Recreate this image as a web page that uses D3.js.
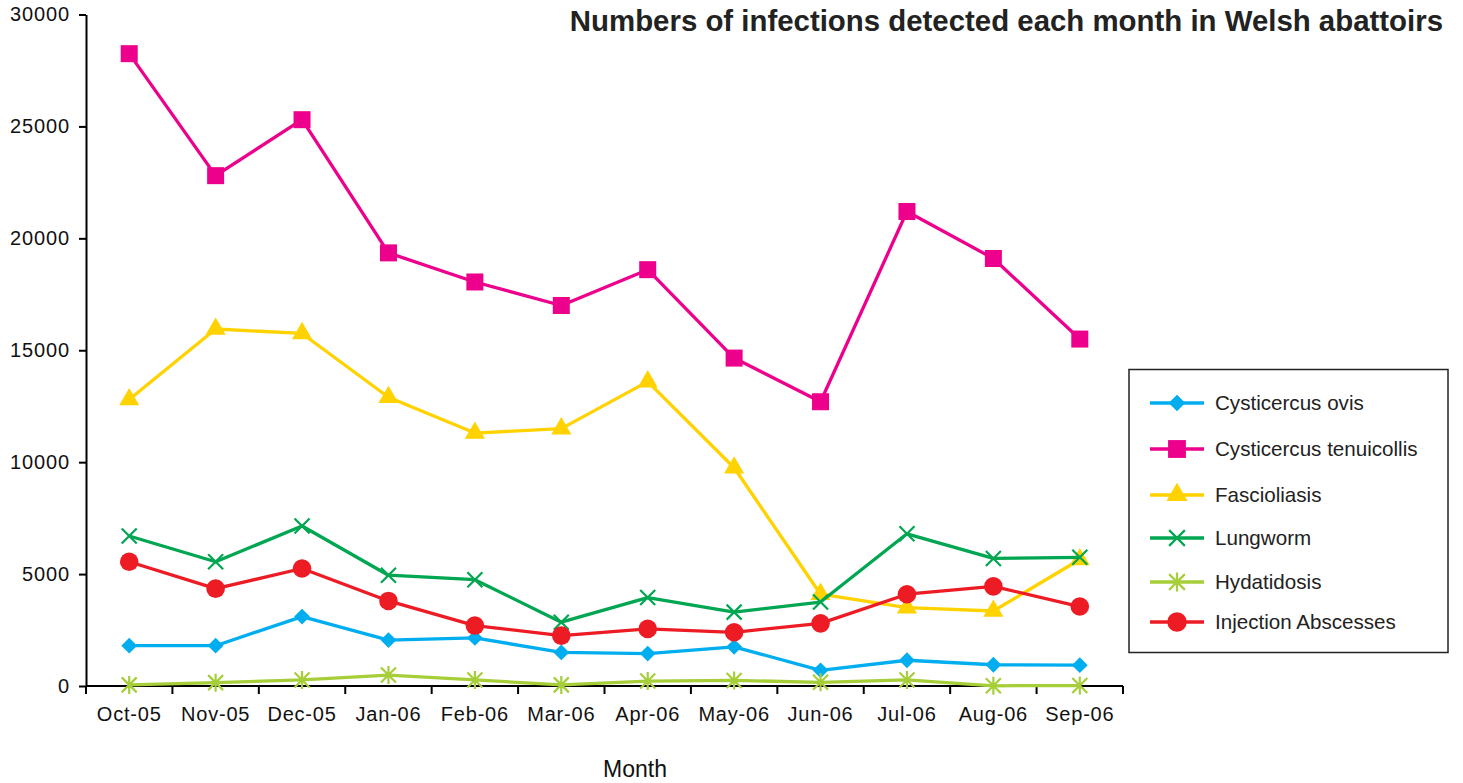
<!DOCTYPE html>
<html><head><meta charset="utf-8">
<script src="https://cdn.jsdelivr.net/npm/d3@7"></script>
<style>
html,body{margin:0;padding:0;background:#fff;}
svg{display:block;font-family:"Liberation Sans",Arial,sans-serif;}
</style></head>
<body><svg id="chart" width="1463" height="783"></svg>
<script>
const months = ["Oct-05","Nov-05","Dec-05","Jan-06","Feb-06","Mar-06","Apr-06","May-06","Jun-06","Jul-06","Aug-06","Sep-06"];
const yTicks = [0,5000,10000,15000,20000,25000,30000];
const seriesNames = ["Cysticercus ovis","Cysticercus tenuicollis","Fascioliasis","Lungworm","Hydatidosis","Injection Abscesses"];
const cysticercusOvis = [1800,1800,3100,2050,2150,1500,1450,1750,700,1150,950,930];
const cysticercusTenuicollis = [28250,22800,25300,19350,18050,17000,18600,14650,12700,21200,19100,15500];
const fascioliasis = [12800,15950,15750,12900,11300,11500,13600,9750,4100,3500,3350,5650];
const lungworm = [6700,5550,7150,4950,4750,2850,3950,3300,3750,6800,5700,5750];
const hydatidosis = [50,150,270,490,270,50,220,250,165,270,10,20];
const injectionAbscesses = [5550,4350,5250,3800,2700,2250,2550,2400,2800,4100,4450,3550];

const colors = ["#00AEEF","#EC008C","#FFD200","#00A651","#A6CE39","#ED1C24"];
const markers = ["diamond","square","triangle","x","asterisk","circle"];
const seriesData = [cysticercusOvis,cysticercusTenuicollis,fascioliasis,lungworm,hydatidosis,injectionAbscesses];

const svg = d3.select("#chart");
const x = d3.scaleBand().domain(months).range([86,1123]);
const y = d3.scaleLinear().domain([0,30000]).range([686,14.5]);

// axes
const xAxis = svg.append("g").attr("transform","translate(0,686)")
  .call(d3.axisBottom(x).tickSize(0).tickSizeOuter(0));
xAxis.select(".domain").attr("stroke","#000").attr("stroke-width",2).attr("d","M86,0H1123");
xAxis.selectAll(".tick text").attr("font-size",20).attr("letter-spacing","0.8px").attr("fill","#111").attr("dy","0.9em").attr("y",17);
// band boundary ticks
const bounds = months.map(m=>x(m)).concat([x(months[months.length-1])+x.bandwidth()]);
xAxis.selectAll("line.bt").data(bounds).enter().append("line")
  .attr("x1",d=>d).attr("x2",d=>d).attr("y1",0).attr("y2",8).attr("stroke","#000").attr("stroke-width",2);

const yAxis = svg.append("g").attr("transform","translate(86,0)")
  .call(d3.axisLeft(y).tickValues(yTicks).tickSize(7).tickSizeOuter(0).tickPadding(9).tickFormat(d3.format("d")));
yAxis.select(".domain").attr("stroke","#000").attr("stroke-width",2);
yAxis.selectAll(".tick line").attr("stroke","#000").attr("stroke-width",2);
yAxis.selectAll(".tick text").attr("font-size",20).attr("letter-spacing","0.9px").attr("fill","#111");

// marker drawing
function drawMarker(g, type, color, cx, cy, scale){
  const s = scale||1;
  if(type==="diamond"){
    g.append("path").attr("d",d3.symbol().type(d3.symbolSquare).size(125*s*s)())
      .attr("transform",`translate(${cx},${cy}) rotate(45)`).attr("fill",color);
  } else if(type==="square"){
    g.append("path").attr("d",d3.symbol().type(d3.symbolSquare).size(289*s*s)())
      .attr("transform",`translate(${cx},${cy})`).attr("fill",color);
  } else if(type==="triangle"){
    g.append("path").attr("d",d3.symbol().type(d3.symbolTriangle).size(175*s*s)())
      .attr("transform",`translate(${cx},${cy})`).attr("fill",color);
  } else if(type==="circle"){
    g.append("circle").attr("cx",cx).attr("cy",cy).attr("r",9.3*s).attr("fill",color);
  } else if(type==="x"){
    const r=7.5*s;
    g.append("path").attr("d",`M${cx-r},${cy-r}L${cx+r},${cy+r}M${cx-r},${cy+r}L${cx+r},${cy-r}`)
      .attr("stroke",color).attr("stroke-width",2.2).attr("fill","none");
  } else if(type==="asterisk"){
    const r=7.5*s;
    g.append("path").attr("d",`M${cx-r},${cy-r}L${cx+r},${cy+r}M${cx-r},${cy+r}L${cx+r},${cy-r}M${cx},${cy-r*1.2}L${cx},${cy+r*1.2}`)
      .attr("stroke",color).attr("stroke-width",2.2).attr("fill","none");
  }
}

const line = d3.line().x((d,i)=>x(months[i])+x.bandwidth()/2).y(d=>y(d));
const plot = svg.append("g");
seriesData.forEach((data,si)=>{
  const g = plot.append("g");
  g.append("path").datum(data).attr("d",line).attr("fill","none")
    .attr("stroke",colors[si]).attr("stroke-width",3.3).attr("stroke-linejoin","round");
  data.forEach((v,i)=>drawMarker(g,markers[si],colors[si],x(months[i])+x.bandwidth()/2,y(v),1));
});

// title
svg.append("text").attr("x",1443).attr("y",31).attr("text-anchor","end")
  .attr("font-size",29.4).attr("font-weight","bold").attr("fill","#222")
  .text("Numbers of infections detected each month in Welsh abattoirs");

// x axis title
svg.append("text").attr("x",635).attr("y",777).attr("text-anchor","middle")
  .attr("font-size",23).attr("fill","#111").text("Month");

// legend
const lg = svg.append("g");
lg.append("rect").attr("x",1129).attr("y",369.5).attr("width",319).attr("height",283)
  .attr("fill","#fff").attr("stroke","#222").attr("stroke-width",1.5);
const legendY = [403,449,495,538,582,622];
seriesNames.forEach((n,i)=>{
  const ly = legendY[i];
  lg.append("line").attr("x1",1150).attr("x2",1204).attr("y1",ly).attr("y2",ly)
    .attr("stroke",colors[i]).attr("stroke-width",3.3);
  drawMarker(lg,markers[i],colors[i],1177,ly,1.05);
  lg.append("text").attr("x",1215).attr("y",ly).attr("dy","0.35em")
    .attr("font-size",20.6).attr("fill","#222").text(n);
});
</script></body></html>
